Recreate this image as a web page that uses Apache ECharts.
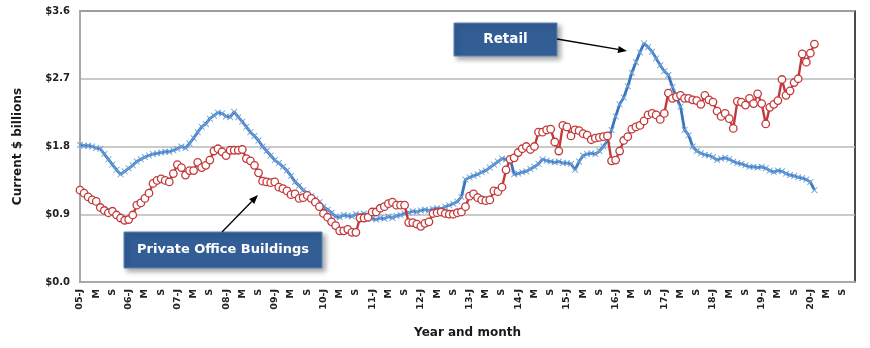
<!DOCTYPE html>
<html>
<head>
<meta charset="utf-8">
<script src="https://cdn.jsdelivr.net/npm/echarts/dist/echarts.min.js"></script>
<style>
  html, body { margin: 0; padding: 0; background: #ffffff; }
  #chart { width: 870px; height: 348px; }
</style>
</head>
<body>
<div id="chart"></div>
<script>
// Monthly categories Jan 2005 .. Dec 2020
const years = [2005, 2006, 2007, 2008, 2009, 2010, 2011, 2012, 2013, 2014, 2015, 2016, 2017, 2018, 2019, 2020];
const monthLetters = ['J', 'F', 'M', 'A', 'M', 'J', 'J', 'A', 'S', 'O', 'N', 'D'];
const shownMonths = [0, 4, 8]; // J, M, S
const categories = [];
const tickLabels = [];
years.forEach(y => {
  monthLetters.forEach((m, k) => {
    const yy = String(y).slice(2);
    categories.push(yy + '-' + (k + 1));
    if (k === 0) tickLabels.push(yy + '-J');
    else if (shownMonths.indexOf(k) >= 0) tickLabels.push(m);
    else tickLabels.push('');
  });
});

const yTicks = [0, 0.9, 1.8, 2.7, 3.6];

// Retail (current $ billions), Jan 2005 .. Feb 2020
const retail = [
  1.82, 1.81, 1.81, 1.80, 1.78, 1.77, 1.70, 1.63, 1.56, 1.49, 1.43, 1.47,
  1.51, 1.55, 1.60, 1.63, 1.66, 1.68, 1.70, 1.71, 1.72, 1.73, 1.73, 1.75,
  1.77, 1.80, 1.78, 1.84, 1.91, 1.99, 2.06, 2.10, 2.17, 2.21, 2.25, 2.24,
  2.20, 2.19, 2.26, 2.19, 2.13, 2.06, 1.99, 1.94, 1.88, 1.80, 1.74, 1.68,
  1.62, 1.58, 1.53, 1.48, 1.41, 1.33, 1.28, 1.22, 1.18, 1.14, 1.10, 1.06,
  1.00, 0.96, 0.92, 0.87, 0.86, 0.89, 0.88, 0.87, 0.90, 0.89, 0.91, 0.88,
  0.84, 0.83, 0.85, 0.84, 0.87, 0.85, 0.88, 0.89, 0.91, 0.92, 0.94, 0.93,
  0.95, 0.96, 0.95, 0.97, 0.98, 0.97, 1.00, 1.02, 1.04, 1.07, 1.13, 1.36,
  1.39, 1.41, 1.43, 1.46, 1.48, 1.52, 1.56, 1.60, 1.64, 1.63, 1.64, 1.43,
  1.44, 1.46, 1.47, 1.50, 1.53, 1.57, 1.63, 1.61, 1.60, 1.59, 1.60, 1.58,
  1.58, 1.57, 1.49, 1.60, 1.68, 1.70, 1.71, 1.70, 1.74, 1.80, 1.88, 2.02,
  2.20, 2.36, 2.45, 2.60, 2.78, 2.92, 3.05, 3.17, 3.12, 3.06, 2.97, 2.88,
  2.80, 2.75, 2.59, 2.45, 2.33, 2.02, 1.95, 1.80, 1.74, 1.71, 1.69, 1.68,
  1.66, 1.62, 1.64, 1.65, 1.63, 1.60, 1.58, 1.57, 1.55, 1.53, 1.53, 1.52,
  1.53, 1.51, 1.48, 1.46, 1.48, 1.47, 1.44, 1.42, 1.41, 1.39, 1.38, 1.36,
  1.33, 1.22
];

// Private Office Buildings (current $ billions), Jan 2005 .. Feb 2020
const privateOffice = [
  1.22, 1.18, 1.13, 1.09, 1.07, 0.99, 0.95, 0.92, 0.94, 0.89, 0.85, 0.82,
  0.83, 0.89, 1.02, 1.05, 1.11, 1.18, 1.31, 1.35, 1.37, 1.35, 1.33, 1.44,
  1.56, 1.52, 1.42, 1.48, 1.48, 1.59, 1.52, 1.55, 1.62, 1.74, 1.77, 1.73,
  1.68, 1.75, 1.75, 1.75, 1.76, 1.64, 1.61, 1.55, 1.45, 1.34, 1.33, 1.32,
  1.33, 1.26, 1.24, 1.21, 1.16, 1.17, 1.11, 1.12, 1.15, 1.11, 1.06, 1.00,
  0.91, 0.86, 0.80, 0.75, 0.68, 0.68, 0.70, 0.66, 0.66, 0.85, 0.85, 0.86,
  0.93, 0.93, 0.98, 1.00, 1.04, 1.06, 1.02, 1.02, 1.02, 0.79, 0.79, 0.77,
  0.74, 0.78, 0.80, 0.91, 0.92, 0.93, 0.91, 0.90, 0.90, 0.92, 0.93, 1.00,
  1.14, 1.17, 1.12, 1.09, 1.08, 1.09, 1.21, 1.20, 1.26, 1.49, 1.63, 1.65,
  1.72, 1.77, 1.80, 1.76, 1.80, 1.99, 1.99, 2.02, 2.03, 1.86, 1.74, 2.08,
  2.06, 1.94, 2.02, 2.01, 1.97, 1.95, 1.89, 1.91, 1.92, 1.93, 1.94, 1.61,
  1.62, 1.74, 1.88, 1.93, 2.03, 2.06, 2.08, 2.14, 2.22, 2.24, 2.22, 2.16,
  2.24, 2.51, 2.44, 2.46, 2.48, 2.44, 2.44, 2.42, 2.41, 2.36, 2.48, 2.42,
  2.39, 2.27, 2.20, 2.24, 2.17, 2.04, 2.40, 2.39, 2.35, 2.44, 2.37, 2.50,
  2.37, 2.10, 2.32, 2.36, 2.41, 2.69, 2.48, 2.54, 2.65, 2.70, 3.03, 2.92,
  3.04, 3.16
];

const crossPath = 'path://M1,0L5,4L9,0L10,1L6,5L10,9L9,10L5,6L1,10L0,9L4,5L0,1Z';
const FONT = 'DejaVu Sans';

function arrow(x1, y1, x2, y2, len, half) {
  const a = Math.atan2(y2 - y1, x2 - x1);
  const bx = x2 - len * Math.cos(a), by = y2 - len * Math.sin(a);
  const px = -Math.sin(a) * half, py = Math.cos(a) * half;
  return [
    { type: 'line', z: 100, shape: { x1: x1, y1: y1, x2: bx, y2: by }, style: { stroke: '#000', lineWidth: 1.3 } },
    { type: 'polygon', z: 100, shape: { points: [[x2, y2], [bx + px, by + py], [bx - px, by - py]] }, style: { fill: '#000' } }
  ];
}

function box(x, y, w, h, text, fs) {
  return [
    { type: 'rect', z: 99, shape: { x: x, y: y, width: w, height: h },
      style: { fill: '#325E95', stroke: '#5F84B5', lineWidth: 1, shadowBlur: 5, shadowOffsetX: 3, shadowOffsetY: 3, shadowColor: 'rgba(0,0,0,0.35)' } },
    { type: 'text', z: 101, x: x + w / 2, y: y + h / 2,
      style: { text: text, fill: '#ffffff', font: 'bold ' + fs + 'px "' + FONT + '"', align: 'center', verticalAlign: 'middle' } }
  ];
}

const chart = echarts.init(document.getElementById('chart'), null, { renderer: 'canvas' });
chart.setOption({
  animation: false,
  backgroundColor: '#ffffff',
  grid: { left: 80, right: 15, top: 11, bottom: 66, show: true, borderColor: '#111', borderWidth: 1.5, backgroundColor: 'transparent' },
  xAxis: {
    type: 'category',
    data: categories,
    boundaryGap: false,
    name: 'Year and month',
    nameLocation: 'middle',
    nameGap: 45,
    nameTextStyle: { fontFamily: FONT, fontWeight: 'bold', fontSize: 12, color: '#1a1a1a' },
    axisLine: { show: true, lineStyle: { color: '#a8a8a8', width: 2 } },
    axisTick: { show: false },
    splitLine: { show: false },
    axisLabel: {
      interval: function (idx) { return tickLabels[idx] !== ''; },
      formatter: function (v, idx) { return tickLabels[idx]; },
      rotate: 90,
      margin: 7,
      fontFamily: FONT, fontSize: 9.5, fontWeight: 'bold', color: '#222'
    }
  },
  yAxis: {
    type: 'value',
    min: yTicks[0], max: yTicks[yTicks.length - 1], interval: 0.9,
    name: 'Current $ billions',
    nameLocation: 'middle',
    nameGap: 56,
    nameTextStyle: { fontFamily: FONT, fontWeight: 'bold', fontSize: 12, color: '#1a1a1a' },
    axisLine: { show: true, lineStyle: { color: '#a8a8a8', width: 2 } },
    axisTick: { show: false },
    splitLine: { show: true, lineStyle: { color: '#b8b8b8', width: 1.5 } },
    axisLabel: {
      formatter: function (v) { return '$' + v.toFixed(1); },
      margin: 10,
      fontFamily: FONT, fontSize: 10, fontWeight: 'bold', color: '#222'
    }
  },
  series: [
    {
      name: 'Retail', type: 'line', data: retail,
      symbol: crossPath, symbolSize: 6.5, showAllSymbol: true,
      lineStyle: { color: '#3B74BC', width: 2.8 },
      itemStyle: { color: '#6EA3DC', borderWidth: 0 },
      z: 3
    },
    {
      name: 'Private Office Buildings', type: 'line', data: privateOffice,
      symbol: 'circle', symbolSize: 7.5, showAllSymbol: true,
      lineStyle: { color: '#C2393A', width: 2.4 },
      itemStyle: { color: '#ffffff', borderColor: '#C2393A', borderWidth: 1.3 },
      z: 4
    }
  ],
  graphic: [].concat(
    arrow(557, 39, 627, 51, 9, 3.5),
    arrow(222, 232, 258, 195, 9, 3.5),
    box(454, 23, 103, 33, 'Retail', 13.5),
    box(124, 232, 198, 36, 'Private Office Buildings', 13)
  )
});
</script>
</body>
</html>
